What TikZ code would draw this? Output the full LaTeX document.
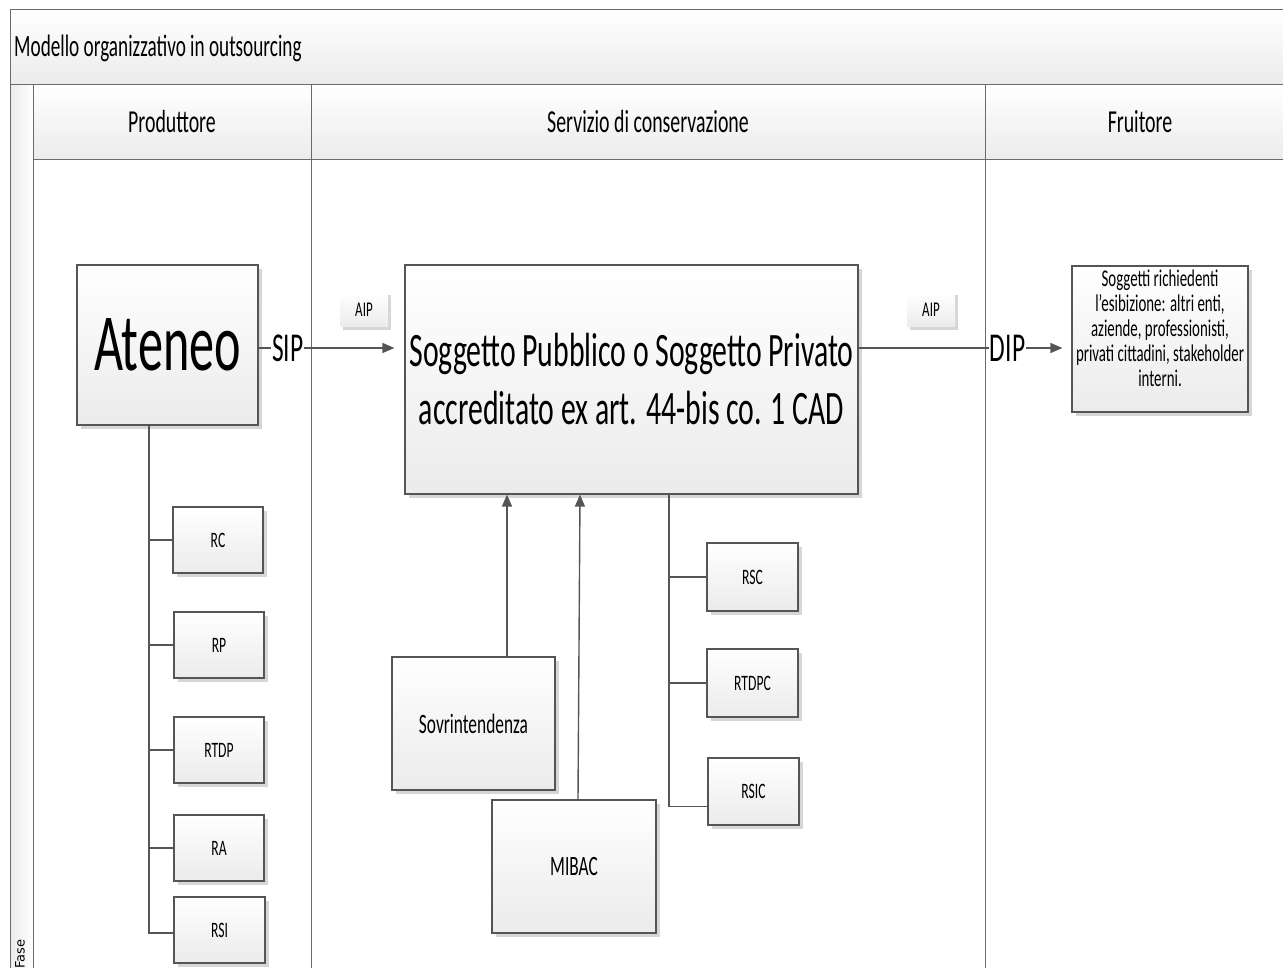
\documentclass[tikz,border=0pt]{standalone}
\usepackage{fontspec}
\setmainfont{Carlito}[FakeStretch=0.62]
\newfontfamily\fasefont{DejaVu Sans}
\usetikzlibrary{arrows.meta,shadows}

\definecolor{edge}{HTML}{555555}
\definecolor{framec}{HTML}{6A6A6A}
\definecolor{shade}{HTML}{EBEBEB}
\definecolor{shadowgray}{HTML}{D6D6D6}

\newcommand\txt[2]{\fontsize{#1}{#2}\selectfont}

\tikzset{
  frame/.style={draw=framec, line width=1pt},
  band/.style={frame, top color=white, bottom color=shade},
  box/.style={draw=edge, line width=1.2pt, top color=white, bottom color=shade,
    drop shadow={shadow xshift=4pt, shadow yshift=-4pt, fill=shadowgray, opacity=1},
    align=center, inner sep=2pt},
  tag/.style={top color=white, bottom color=shade,
    drop shadow={shadow xshift=3pt, shadow yshift=-3pt, fill=shadowgray, opacity=1},
    inner sep=0pt},
  role/.style={box, minimum width=90pt, minimum height=66pt, font=\txt{22}{25}},
  head/.style={font=\txt{32}{36}},
  conn/.style={draw=edge, line width=1.4pt},
  flow/.style={conn, -{Triangle[length=12pt,width=10pt]}},
  lbl/.style={fill=white, inner sep=1pt, font=\txt{41}{45}},
}

\begin{document}
\begin{tikzpicture}[x=1pt,y=-1pt]
\clip (0,0) rectangle (1283,968);

% pool title bar and lane frame
\draw[band] (10,10) rectangle (1300,85);
\node[anchor=west, inner sep=0pt, font=\txt{31}{35}] (title) at (14,48) {Modello organizzativo in outsourcing};
\draw[frame, left color=shade, right color=white] (10,85) rectangle (33,990);
\node[anchor=south west, inner sep=0pt, font=\fasefont\txt{13}{15}] (fase) at (15,969) {\rotatebox{90}{Fase}};

% column headers
\draw[band] (33,85) rectangle (311,160);
\draw[band] (311,85) rectangle (985,160);
\draw[band] (985,85) rectangle (1300,160);
\node[head] (hprod) at (172,122) {Produttore};
\node[head] (hserv) at (648,122) {Servizio di conservazione};
\node[head] (hfruit) at (1140,122) {Fruitore};

% column bodies
\draw[frame] (33,160) rectangle (311,990);
\draw[frame] (311,160) rectangle (985,990);
\draw[frame] (985,160) rectangle (1300,990);

% main boxes
\node[box, minimum width=181pt, minimum height=160pt, font=\txt{81}{90}] (ateneo) at (167.5,345) {Ateneo};
\node[box, minimum width=453pt, minimum height=229pt, font=\txt{48}{58}] (sogg) at (631.5,379.5)
  {Soggetto Pubblico o Soggetto Privato\\accreditato ex art. 44-bis co. 1 CAD};
\node[box, minimum width=176pt, minimum height=146pt, font=\txt{24}{25}] (fruit) at (1160,339)
  {Soggetti richiedenti\\l'esibizione: altri enti,\\aziende, professionisti,\\privati cittadini, stakeholder\\interni.\\[-4pt]\mbox{}};

% AIP tags
\node[tag, minimum width=48pt, minimum height=35pt, font=\txt{21}{24}] (aip1) at (364,309.5) {AIP};
\node[tag, minimum width=48pt, minimum height=35pt, font=\txt{21}{24}] (aip2) at (931,309.5) {AIP};

% producer roles
\node[role] (rc) at (218,540) {RC};
\node[role] (rp) at (219,645) {RP};
\node[role] (rtdp) at (219,750) {RTDP};
\node[role] (ra) at (219,848) {RA};
\node[role, minimum width=91pt] (rsi) at (219.5,930) {RSI};

% supervising bodies
\node[box, minimum width=163pt, minimum height=133pt, font=\txt{28}{32}] (sovr) at (473.5,723.5) {Sovrintendenza};
\node[box, minimum width=164pt, minimum height=133pt, font=\txt{28}{32}] (mibac) at (574,866.5) {MIBAC};

% conservation service roles
\node[role, minimum width=91pt, minimum height=68pt] (rsc) at (752.5,577) {RSC};
\node[role, minimum width=91pt, minimum height=68pt] (rtdpc) at (752.5,683) {RTDPC};
\node[role, minimum width=91pt, minimum height=67pt] (rsic) at (753.5,791.5) {RSIC};

% package flow
\draw[flow, shorten >=10pt] ([yshift=-3pt]ateneo.east) -- node[lbl, pos=0.2] (sip) {SIP} ([yshift=-3pt]ateneo.east -| sogg.west);
\draw[flow, shorten >=9pt] ([yshift=-3pt]ateneo.east -| sogg.east) -- node[lbl, pos=0.7] (dip) {DIP} ([yshift=-3pt]ateneo.east -| fruit.west);

% oversight arrows
\draw[flow] ([xshift=33.5pt]sovr.north) -- ([xshift=-124.5pt]sogg.south);
\draw[flow] ([xshift=4pt]mibac.north) -- ([xshift=-51.5pt]sogg.south);

% producer tree
\draw[conn] ([xshift=-18.5pt]ateneo.south) |- (rc.west);
\draw[conn] ([xshift=-18.5pt]ateneo.south) |- (rp.west);
\draw[conn] ([xshift=-18.5pt]ateneo.south) |- (rtdp.west);
\draw[conn] ([xshift=-18.5pt]ateneo.south) |- (ra.west);
\draw[conn] ([xshift=-18.5pt]ateneo.south) |- ([yshift=-3pt]rsi.west);

% conservation tree
\draw[conn] ([xshift=37.5pt]sogg.south) |- (rsc.west);
\draw[conn] ([xshift=37.5pt]sogg.south) |- (rtdpc.west);
\draw[conn] ([xshift=37.5pt]sogg.south) |- ([yshift=-15pt]rsic.west);
\end{tikzpicture}
\end{document}
